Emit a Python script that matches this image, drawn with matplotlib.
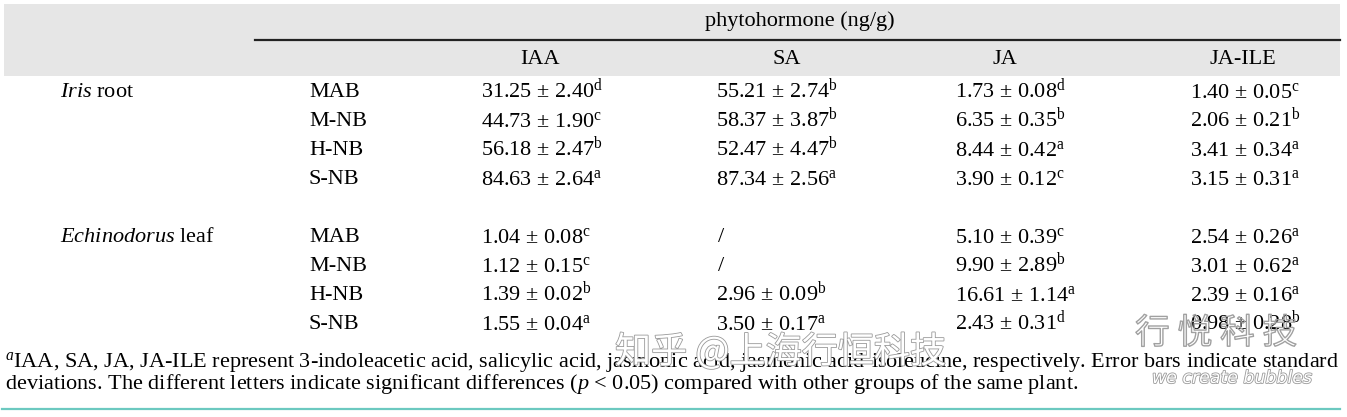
import matplotlib
matplotlib.use("Agg")
import matplotlib.pyplot as plt
import matplotlib.patheffects as pe
from matplotlib.patches import Rectangle
from matplotlib.lines import Line2D

# table data
groups = ["Iris", "Echinodorus"]
group_tails = [" root", " leaf"]
treatments = ["MAB", "M-NB", "H-NB", "S-NB"]
hormones = ["IAA", "SA", "JA", "JA-ILE"]

iaa_mean = [31.25, 44.73, 56.18, 84.63, 1.04, 1.12, 1.39, 1.55]
iaa_sd = [2.40, 1.90, 2.47, 2.64, 0.08, 0.15, 0.02, 0.04]
iaa_sig = ["d", "c", "b", "a", "c", "c", "b", "a"]

sa_mean = [55.21, 58.37, 52.47, 87.34, None, None, 2.96, 3.50]
sa_sd = [2.74, 3.87, 4.47, 2.56, None, None, 0.09, 0.17]
sa_sig = ["b", "b", "b", "a", None, None, "b", "a"]

ja_mean = [1.73, 6.35, 8.44, 3.90, 5.10, 9.90, 16.61, 2.43]
ja_sd = [0.08, 0.35, 0.42, 0.12, 0.39, 2.89, 1.14, 0.31]
ja_sig = ["d", "b", "a", "c", "c", "b", "a", "d"]

jaile_mean = [1.40, 2.06, 3.41, 3.15, 2.54, 3.01, 2.39, 0.98]
jaile_sd = [0.05, 0.21, 0.34, 0.31, 0.26, 0.62, 0.16, 0.28]
jaile_sig = ["c", "b", "a", "a", "a", "a", "a", "b"]

footnote1 = (r"$^{\mathit{a}}$IAA, SA, JA, JA-ILE represent 3-indoleacetic acid, salicylic acid, "
             "jasmonic acid, jasmonic acid-isoleucine, respectively. Error bars indicate standard")
footnote2 = (r"deviations. The different letters indicate significant differences ($\mathit{p}$ < 0.05) "
             "compared with other groups of the same plant.")

plt.rcParams["font.family"] = ["Liberation Serif", "DejaVu Serif"]
plt.rcParams["mathtext.fontset"] = "custom"
plt.rcParams["mathtext.rm"] = "Liberation Serif"
plt.rcParams["mathtext.it"] = "Liberation Serif:italic"

W, H = 1347, 417
fig = plt.figure(figsize=(W / 100, H / 100), dpi=100)
fs = 16


def px(x, y):
    return x / W, 1 - y / H


def put(x, y, s, **kw):
    # y is the text baseline in picture pixels
    kw.setdefault("fontsize", fs)
    kw.setdefault("va", "baseline")
    fig.text(*px(x, y), s, **kw)


# header band
fig.patches.append(Rectangle(px(4, 76), 1336 / W, 72 / H, transform=fig.transFigure,
                             facecolor="#e6e6e6", edgecolor="none", zorder=0))
fig.lines.append(Line2D([255 / W, 1340 / W], [1 - 40 / H] * 2, transform=fig.transFigure,
                        color="#222222", lw=1.6))
fig.lines.append(Line2D([2 / W, 1340 / W], [1 - 409 / H] * 2, transform=fig.transFigure,
                        color="#6cc9c0", lw=1.6))

put(800, 26, "phytohormone (ng/g)", ha="center")
head_x = [540, 787, 1005, 1243]
for hx, name in zip(head_x, hormones):
    put(hx, 64, name, ha="center")

row_y = [97, 126, 155, 184, 242, 271, 300, 329]
put(60, row_y[0], r"$\mathit{" + groups[0] + "}$" + group_tails[0], ha="left")
put(60, row_y[4], r"$\mathit{" + groups[1] + "}$" + group_tails[1], ha="left")
for i, y in enumerate(row_y):
    put(309, y, treatments[i % 4], ha="left")

columns = [(iaa_mean, iaa_sd, iaa_sig, 481),
           (sa_mean, sa_sd, sa_sig, 716),
           (ja_mean, ja_sd, ja_sig, 955),
           (jaile_mean, jaile_sd, jaile_sig, 1190)]
for means, sds, sigs, x0 in columns:
    for m, s, g, y in zip(means, sds, sigs, row_y):
        if m is None:
            put(x0 + 2, y, "/", ha="left")
        else:
            # superscript strings sit a little high, push them down
            put(x0, y + 1, f"{m:.2f} $\\pm$ {s:.2f}" + r"$^{\mathrm{" + g + "}}$", ha="left")

put(5, 367, footnote1, ha="left")
put(5, 389, footnote2, ha="left")

# watermark
stroke = [pe.withStroke(linewidth=1.2, foreground="#9a9a9a")]
fig.text(*px(615, 352), "知乎 @上海行恒科技", fontsize=26, color="white", va="center",
         ha="left", family=["Noto Sans CJK SC", "DejaVu Sans"], path_effects=stroke)
fig.text(*px(1135, 334), "行 悦 科 技", fontsize=25, color="none", va="center",
         ha="left", family=["Noto Sans CJK SC", "DejaVu Sans"],
         path_effects=[pe.Stroke(linewidth=1.0, foreground="#a0a0a0")])
fig.text(*px(1152, 378), "we create bubbles", fontsize=12.5, color="white", va="center",
         ha="left", style="italic", family=["DejaVu Sans"], path_effects=stroke)

fig.savefig("out.png", dpi=100)
